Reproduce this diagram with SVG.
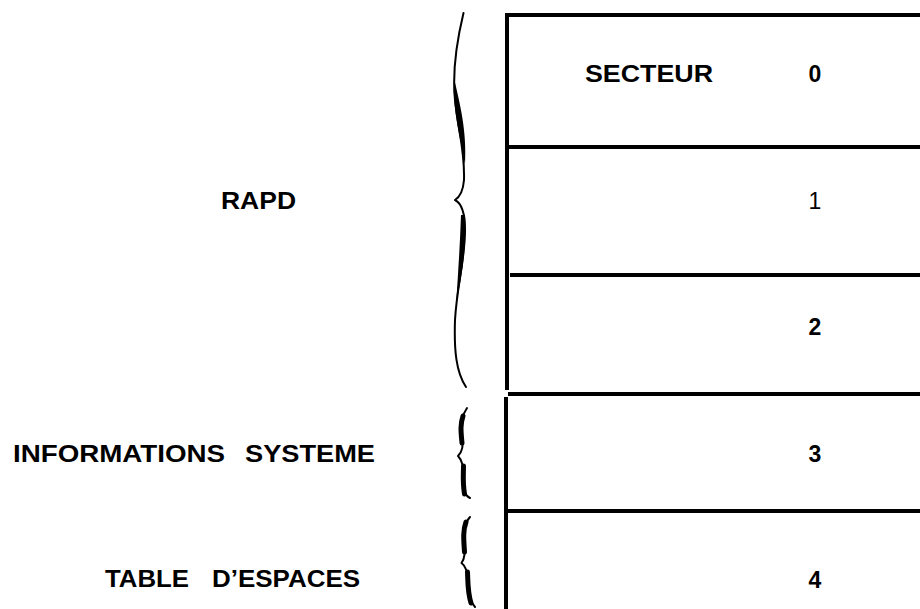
<svg xmlns="http://www.w3.org/2000/svg" width="920" height="609" viewBox="0 0 920 609">
  <style>
    .rule { stroke: #000; stroke-width: 4; fill: none; stroke-linecap: butt; }
    .lbl { font-family: "Liberation Sans", Arial, sans-serif; font-weight: bold; font-size: 24px; fill: #000; }
    .num { font-family: "Liberation Sans", Arial, sans-serif; font-weight: bold; font-size: 23px; fill: #000; text-anchor: middle; }
    .thin { font-weight: normal; }
    .brace { stroke: #000; fill: none; stroke-width: 2; stroke-linecap: round; stroke-linejoin: round; }
    .brace-thick { stroke: #000; fill: none; stroke-width: 5; stroke-linecap: round; }
    .ink { fill: #000; stroke: none; }
  </style>
  <rect width="920" height="609" fill="#fff"/>

  <!-- sector table: left rule and row separators -->
  <g id="table-frame">
    <line class="rule" x1="507" y1="13" x2="507" y2="390"/>
    <line class="rule" x1="507" y1="15" x2="920" y2="15"/>
    <line class="rule" x1="507" y1="147" x2="920" y2="147"/>
    <line class="rule" x1="510" y1="275" x2="920" y2="275"/>
    <line class="rule" x1="508" y1="394" x2="920" y2="394"/>
    <line class="rule" x1="506" y1="397" x2="506" y2="609"/>
    <line class="rule" x1="507" y1="511" x2="920" y2="511"/>
  </g>

  <g id="sector-0">
    <text class="lbl" x="585" y="82" textLength="128" lengthAdjust="spacingAndGlyphs">SECTEUR</text>
    <text class="num" x="815" y="82" font-size="24">0</text>
  </g>
  <g id="sector-1">
    <text class="num thin" x="815" y="209">1</text>
  </g>
  <g id="sector-2">
    <text class="num" x="815" y="335">2</text>
  </g>
  <g id="sector-3">
    <text class="num" x="815" y="462">3</text>
  </g>
  <g id="sector-4">
    <text class="num" x="815" y="588">4</text>
  </g>

  <!-- group labels -->
  <g id="label-rapd">
    <text class="lbl" x="221" y="209" textLength="75" lengthAdjust="spacingAndGlyphs">RAPD</text>
  </g>
  <g id="label-infos">
    <text class="lbl" x="13" y="462" textLength="212" lengthAdjust="spacingAndGlyphs">INFORMATIONS</text>
    <text class="lbl" x="245" y="462" textLength="130" lengthAdjust="spacingAndGlyphs">SYSTEME</text>
  </g>
  <g id="label-table">
    <text class="lbl" x="105" y="587" textLength="84" lengthAdjust="spacingAndGlyphs">TABLE</text>
    <text class="lbl" x="212" y="587" textLength="148" lengthAdjust="spacingAndGlyphs">D’ESPACES</text>
  </g>

  <!-- curly braces grouping the sectors -->
  <g id="brackets">
    <!-- RAPD: sectors 0-2 -->
    <path class="brace" d="M463.5,13 C457,40 452,70 455,100 C458,130 465,150 464,180 C463,192 460,197 455,200 C461,203 465,212 465,230 C465,260 457,285 455,320 C454,350 456,372 466,387"/>
    <path class="ink" d="M454,78 C460,105 467,130 465,165 C461,140 452,110 454,78 Z"/>
    <path class="ink" d="M465,215 C467,245 462,275 456,305 C458,275 460,245 461,215 Z"/>

    <!-- system information: sector 3 -->
    <path class="brace" d="M467,408 C462,415 460,425 462,437 C464,447 462,452 458,456 C462,460 464,466 463,477 C462,488 464,495 470,498"/>
    <path class="brace-thick" d="M463,416 C460,425 461,432 462,443"/>
    <path class="brace-thick" d="M463.5,466 C463.5,474 462.5,482 464.5,494"/>

    <!-- space table: sector 4 -->
    <path class="brace" d="M470,517 C465,522 463,530 464,543 C465,553 465,558 461.5,563 C466,566 468,572 468,583 C468,595 470,602 475,607"/>
    <path class="brace-thick" d="M466,522 C463,530 463.5,538 464.5,552"/>
    <path class="brace-thick" d="M467.5,572 C468,582 467.5,592 471,603"/>
  </g>
</svg>
